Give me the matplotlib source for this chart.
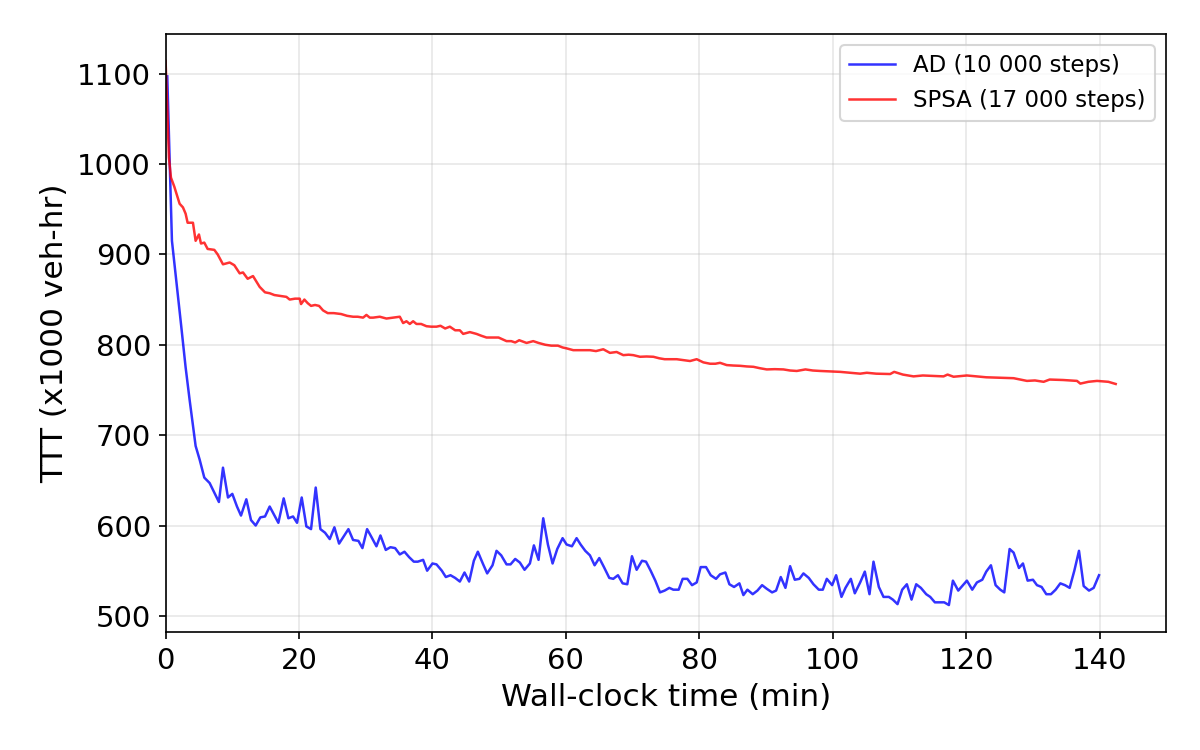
import matplotlib
matplotlib.use("Agg")
import matplotlib.pyplot as plt

# AD (10 000 steps)
ad_t = [0.25, 0.95, 1.65, 2.35, 3.0, 3.6, 4.5, 5.1, 5.8, 6.6, 7.99, 8.6, 9.35, 10.0, 10.7, 11.3, 12.1, 12.8,
        13.5, 14.2, 14.9, 15.6, 16.9, 17.7, 18.4, 19.1, 19.7, 20.4, 21.1, 21.8, 22.5, 23.2, 23.9, 24.6, 25.3,
        26.0, 26.7, 27.4, 28.1, 28.9, 29.5, 30.2, 30.8, 31.6, 32.2, 33.0, 33.7, 34.4, 35.1, 35.8, 36.5, 37.2,
        37.8, 38.6, 39.2, 40.0, 40.6, 41.4, 42.0, 42.7, 43.4, 44.1, 44.8, 45.5, 46.2, 46.8, 47.6, 48.2, 49.0,
        49.6, 50.3, 51.1, 51.7, 52.4, 53.1, 53.8, 54.6, 55.2, 55.9, 56.6, 57.3, 58.0, 58.7, 59.5, 60.1, 60.9,
        61.6, 62.2, 62.9, 63.6, 64.3, 65.0, 65.7, 66.5, 67.1, 67.8, 68.5, 69.2, 69.9, 70.6, 71.4, 72.0, 72.7,
        73.4, 74.1, 74.8, 75.5, 76.1, 76.9, 77.5, 78.2, 78.9, 79.6, 80.2, 81.0, 81.7, 82.5, 83.1, 83.9, 84.5,
        85.2, 86.0, 86.6, 87.2, 88.0, 88.7, 89.4, 90.1, 90.9, 91.5, 92.2, 92.9, 93.6, 94.3, 95.0, 95.6, 96.4,
        97.1, 97.9, 98.5, 99.1, 99.9, 100.5, 101.3, 101.9, 102.7, 103.3, 104.1, 104.8, 105.5, 106.1, 106.9,
        107.6, 108.4, 109.0, 109.7, 110.4, 111.1, 111.8, 112.5, 113.2, 114.0, 114.6, 115.3, 116.0, 116.7,
        117.4, 118.0, 118.8, 119.5, 120.1, 120.9, 121.6, 122.4, 123.0, 123.7, 124.4, 125.1, 125.7, 126.5,
        127.1, 127.9, 128.5, 129.2, 130.0, 130.6, 131.3, 132.0, 132.7, 133.4, 134.1, 134.8, 135.5, 136.2,
        136.9, 137.6, 138.4, 139.1, 139.9]
ad_v = [1097, 915, 868, 820, 775, 739, 688, 673, 653, 647, 626, 664, 631, 635, 621, 611, 629, 606,
        600, 609, 610, 621, 603, 630, 608, 610, 603, 631, 599, 596, 642, 596, 592, 585, 598,
        580, 588, 596, 584, 583, 575, 596, 588, 577, 589, 573, 576, 575, 568, 571, 565, 560,
        560, 562, 550, 558, 557, 550, 543, 545, 542, 538, 548, 538, 561, 571, 557, 547, 556,
        572, 567, 557, 557, 563, 559, 551, 558, 578, 562, 608, 579, 558, 574, 586, 579, 577,
        586, 579, 572, 567, 556, 564, 554, 542, 541, 545, 536, 535, 566, 551, 561, 560, 550,
        539, 526, 528, 531, 529, 529, 541, 541, 534, 537, 554, 554, 545, 541, 546, 548, 535,
        532, 536, 523, 529, 524, 528, 534, 530, 526, 528, 543, 531, 555, 540, 541, 547, 542,
        535, 529, 529, 541, 534, 545, 521, 531, 541, 525, 537, 549, 524, 560, 532,
        521, 521, 518, 513, 529, 535, 518, 535, 531, 524, 521, 515, 515, 515,
        512, 539, 528, 534, 539, 529, 537, 540, 549, 556, 534, 529, 526, 574,
        570, 553, 558, 539, 540, 534, 532, 524, 524, 529, 536, 534, 531, 550,
        572, 533, 528, 531, 545]

# SPSA (17 000 steps)
spsa_t = [0.0, 0.3, 0.5, 0.8, 1.3, 2.1, 2.6, 3.0, 3.3, 4.1, 4.5, 5.0, 5.3, 5.8, 6.3, 7.3, 7.8, 8.6, 9.6,
          10.3, 11.1, 11.6, 12.3, 13.1, 13.6, 14.1, 14.9, 15.6, 16.3, 17.2, 18.1, 18.6, 19.4, 20.1, 20.3,
          20.8, 21.3, 21.8, 22.4, 23.0, 23.6, 24.3, 25.2, 26.3, 27.2, 28.1, 28.8, 29.6, 30.1, 30.6, 31.1,
          32.1, 33.1, 34.1, 35.1, 35.6, 36.1, 36.6, 37.1, 37.6, 38.3, 39.1, 39.8, 40.6, 41.2, 41.9, 42.6,
          43.4, 44.1, 44.6, 45.6, 46.6, 47.3, 48.1, 49.0, 49.9, 50.5, 51.1, 51.8, 52.4, 53.0, 54.1, 55.1,
          55.9, 56.9, 57.8, 58.8, 59.5, 60.1, 61.1, 62.3, 63.6, 64.5, 65.6, 66.6, 67.6, 68.6, 69.4, 70.1,
          71.1, 72.1, 73.1, 74.0, 74.8, 75.7, 76.6, 77.6, 78.6, 79.6, 80.6, 81.6, 82.4, 83.1, 84.1, 85.1,
          86.1, 87.1, 88.1, 89.1, 90.1, 91.3, 92.6, 93.6, 94.6, 95.9, 97.0, 98.1, 99.6, 101.1, 102.6,
          104.1, 105.1, 106.5, 108.6, 109.2, 110.5, 112.1, 113.5, 115.0, 116.6, 117.2, 118.1, 120.1,
          121.5, 123.0, 125.1, 127.1, 129.1, 130.3, 131.6, 132.5, 134.5, 136.6, 137.1, 138.3, 139.6,
          141.3, 142.4]
spsa_v = [1114, 1050, 1007, 985, 975, 956, 952, 945, 935, 935, 915, 922, 912, 913, 906, 905, 900, 889, 891,
          888, 879, 880, 873, 876, 870, 864, 858, 857, 855, 854, 853, 850, 851, 851, 845,
          850, 846, 843, 844, 843, 838, 835, 835, 834, 832, 831, 831, 830, 833, 830, 830,
          831, 829, 830, 831, 824, 826, 823, 826, 823, 823, 820.5, 820, 820, 821, 818, 820,
          816, 816, 812, 814, 812, 810, 808, 808, 808, 806, 804, 804, 802.5, 805, 802, 804,
          802, 800, 799, 799, 797, 796, 794, 794, 794, 793, 795, 791, 792, 788.5, 789, 788.5,
          786.7, 787, 786.7, 785, 784, 784, 784, 783, 782, 784, 780.5, 779, 779, 780, 777.5, 777,
          776.7, 776, 775.6, 774, 772.7, 773, 772.7, 771.5, 771, 772.7, 771.5, 771, 770.5, 770, 769,
          768, 769, 768, 767.6, 770, 767, 765, 766, 765.5, 765, 767, 764.6, 766,
          765, 764, 763.5, 763, 760, 760.5, 759, 761.5, 761, 760, 757, 759, 760,
          759, 756.6]

fig = plt.figure(figsize=(8, 5), dpi=150)
ax = fig.add_axes([0.138, 0.157, 0.834, 0.798])
ax.plot(ad_t, ad_v, color="blue", alpha=0.8, lw=1.2, label="AD (10 000 steps)")
ax.plot(spsa_t, spsa_v, color="red", alpha=0.8, lw=1.2, label="SPSA (17 000 steps)")
ax.set_xlim(0, 150)
ax.set_xlabel("Wall-clock time (min)", fontsize=15)
ax.set_ylabel("TTT (x1000 veh-hr)", fontsize=15)
ax.tick_params(labelsize=14)
ax.grid(True, alpha=0.3)
ax.legend(loc="upper right", fontsize=11)
fig.savefig("out.png", dpi=150)
